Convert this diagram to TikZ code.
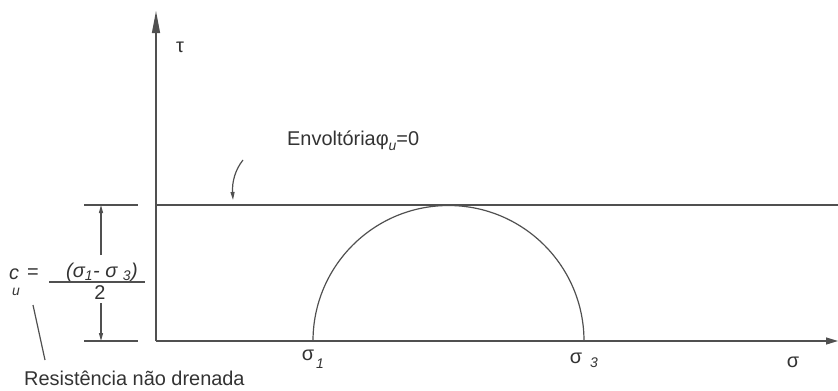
\documentclass[tikz,border=0pt]{standalone}
\usepackage{fontspec}
\setmainfont{Liberation Sans}
\usetikzlibrary{arrows.meta}
\definecolor{ln}{HTML}{505050}
\begin{document}
\begin{tikzpicture}[x=1bp,y=1bp,
  line/.style={draw=ln,line width=1.2bp},
  bigtip/.style={-{Triangle[length=22bp,width=8bp]}},
  xtip/.style={-{Triangle[length=12bp,width=7bp]}},
  smalltip/.style={-{Triangle[length=8bp,width=4bp]}},
  lbl/.style={inner sep=0pt,font=\fontsize{20}{22}\selectfont,text=black!80},
  sub/.style={inner sep=0pt,font=\fontsize{14}{16}\selectfont\itshape,text=black!80}]
\useasboundingbox (0,0) rectangle (838,390);
% coordinates
\coordinate (O) at (156,49);
\coordinate (Ytop) at (156,379);
\coordinate (Xend) at (838,49);
\coordinate (E1) at (156,185);
\coordinate (E2) at (838,185);
\coordinate (S1) at (313,49);
\coordinate (S3) at (584,49);
% axes
\draw[line,bigtip] (O) -- (Ytop);
\draw[line,xtip] (O) -- (Xend);
% envelope
\draw[line] (E1) -- (E2);
% Mohr circle
\draw[line] (S3) arc[start angle=0,end angle=180,radius=135.5];
% dimension
\coordinate (T1a) at (84,185); \coordinate (T1b) at (138,185);
\coordinate (T2a) at (84,49); \coordinate (T2b) at (138,49);
\draw[line] (T1a) -- (T1b);
\draw[line] (T2a) -- (T2b);
\coordinate (D1) at (101,135); \coordinate (D1e) at (101,185);
\coordinate (D2) at (101,87); \coordinate (D2e) at (101,49);
\draw[line,smalltip] (D1) -- (D1e);
\draw[line,smalltip] (D2) -- (D2e);
% fraction
\node[lbl] (num) at (102,118) {\itshape (σ\textsubscript{1}- σ \textsubscript{3})};
\coordinate (B1) at (49,108); \coordinate (B2) at (145,108);
\draw[line] (B1) -- (B2);
\node[lbl] (den) at (100,97) {2};
\node[lbl] (c) at (14,116) {\itshape c};
\node[sub] (u) at (16,98) {u};
\node[lbl] (eq) at (33,116) {=};
% leader
\coordinate (L1) at (33,85); \coordinate (L2) at (45,30);
\draw[line] (L1) -- (L2);
\node[lbl,anchor=west] (res) at (24,12) {Resistência não drenada};
% labels
\node[lbl] (tau) at (180,343) {τ};
\node[lbl] (s1) at (308,35) {σ};
\node[sub] (s1i) at (320,26) {1};
\node[lbl] (s3) at (576,32) {σ};
\node[sub] (s3i) at (594,27) {3};
\node[lbl] (sig) at (793,28) {σ};
\node[lbl,anchor=base west] (env) at (287,245) {Envoltóriaφ\raisebox{-5bp}{\itshape\fontsize{14}{16}\selectfont u}=0};
% curved arrow
\coordinate (C1) at (243,230); \coordinate (C2) at (233,190);
\draw[line,smalltip] (C1) .. controls (235,220) and (232,208) .. (C2);
\end{tikzpicture}
\end{document}
